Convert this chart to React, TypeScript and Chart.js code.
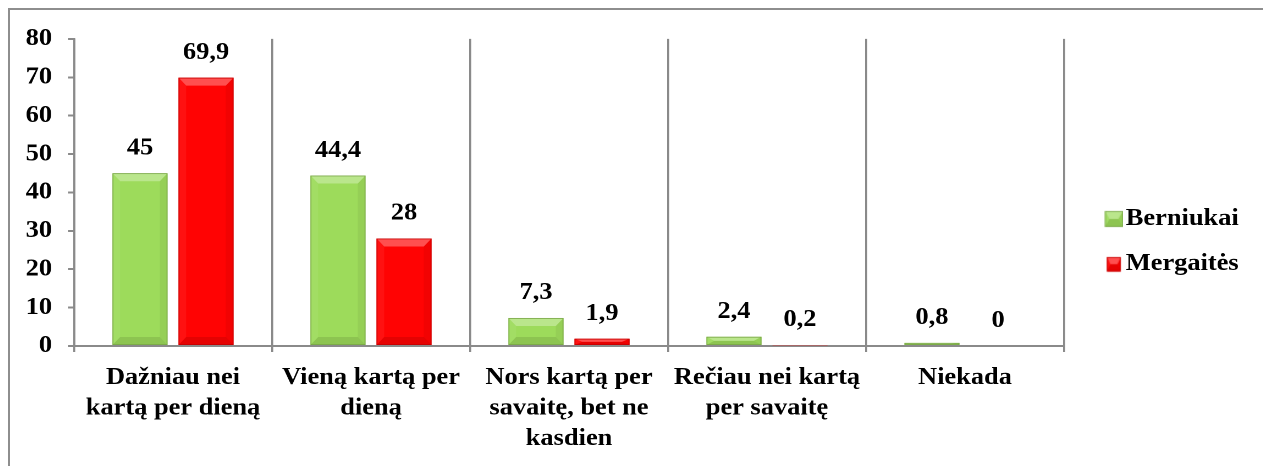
import React, { useEffect, useRef } from "react";
import { Chart, registerables } from "chart.js";

Chart.register(...registerables);

// ---- data ----
const categories: string[][] = [
  ["Dažniau nei", "kartą per dieną"],
  ["Vieną kartą per", "dieną"],
  ["Nors kartą per", "savaitę, bet ne", "kasdien"],
  ["Rečiau nei kartą", "per savaitę"],
  ["Niekada"],
];
const seriesNames = ["Berniukai", "Mergaitės"];
const berniukai = [45, 44.4, 7.3, 2.4, 0.8];
const mergaites = [69.9, 28, 1.9, 0.2, 0];
const yMin = 0;
const yMax = 80;
const yStep = 10;

// ---- styling ----
const FONT = "'Liberation Serif', 'Times New Roman', serif";
const FS = 24;
const FILLS = ["#9DDB5B", "#FF0303"];
const EDGES = ["#79A548", "#C40000"];
const GRID = "#8a8a8a";
const CSS_W = 1256;
const CSS_H = 456;
const LOG_W = 1142; // drawn narrower, shown stretched ~1.1x like the original

function poly(ctx: CanvasRenderingContext2D, pts: number[][], fill: string) {
  ctx.beginPath();
  ctx.moveTo(pts[0][0], pts[0][1]);
  for (let i = 1; i < pts.length; i++) ctx.lineTo(pts[i][0], pts[i][1]);
  ctx.closePath();
  ctx.fillStyle = fill;
  ctx.fill();
}

function bevelRect(ctx: CanvasRenderingContext2D, l: number, t: number, r: number, b: number, di: number) {
  const w = r - l;
  const h = b - t;
  const bx = Math.min(7, w / 4);
  const by = Math.min(8, h / 2);
  poly(ctx, [[l, t], [r, t], [r - bx, t + by], [l + bx, t + by]], "rgba(255,255,255,0.30)");
  poly(ctx, [[l, t], [l + bx, t + by], [l + bx, b - by], [l, b]], "rgba(255,255,255,0.06)");
  poly(ctx, [[r, t], [r - bx, t + by], [r - bx, b - by], [r, b]], "rgba(0,0,0,0.05)");
  poly(ctx, [[l, b], [l + bx, b - by], [r - bx, b - by], [r, b]], "rgba(0,0,0,0.10)");
  ctx.strokeStyle = EDGES[di];
  ctx.lineWidth = 0.8;
  ctx.strokeRect(l + 0.4, t + 0.4, w - 0.8, h - 0.8);
}

function makeMarker(di: number): HTMLCanvasElement {
  const c = document.createElement("canvas");
  c.width = 20;
  c.height = 18;
  const ctx = c.getContext("2d")!;
  const dims = di === 0 ? { ox: 3.5, oy: 1, w: 16.3, h: 16 } : { ox: 5.3, oy: 2, w: 12.7, h: 14.5 };
  ctx.fillStyle = FILLS[di];
  ctx.fillRect(dims.ox, dims.oy, dims.w, dims.h);
  bevelRect(ctx, dims.ox, dims.oy, dims.ox + dims.w, dims.oy + dims.h, di);
  return c;
}

const barDecorPlugin = {
  id: "barDecor",
  afterDatasetsDraw(chart: any) {
    const ctx: CanvasRenderingContext2D = chart.ctx;
    ctx.save();
    chart.data.datasets.forEach((ds: any, di: number) => {
      const meta = chart.getDatasetMeta(di);
      meta.data.forEach((el: any) => {
        const { x, y, base, width } = el.getProps(["x", "y", "base", "width"], true);
        const l = x - width / 2;
        const r = x + width / 2;
        const t = Math.min(y, base);
        const b = Math.max(y, base);
        if (b - t >= 0.6) bevelRect(ctx, l, t, r, b, di);
      });
    });
    ctx.font = `bold ${FS}px ${FONT}`;
    ctx.fillStyle = "#000";
    ctx.textAlign = "center";
    ctx.textBaseline = "middle";
    chart.data.datasets.forEach((ds: any, di: number) => {
      const meta = chart.getDatasetMeta(di);
      meta.data.forEach((el: any, i: number) => {
        const { x, y, base } = el.getProps(["x", "y", "base"], true);
        const t = Math.min(y, base);
        const v = ds.data[i];
        ctx.fillText(String(v).replace(".", ","), x, t - 25);
      });
    });
    ctx.restore();
  },
};

export default function App() {
  const ref = useRef<HTMLCanvasElement>(null);

  useEffect(() => {
    const prev = document.documentElement.style.overflow;
    document.documentElement.style.overflow = "hidden";
    const canvas = ref.current!;
    const markers = [makeMarker(0), makeMarker(1)];
    const series = [berniukai, mergaites];

    const chart = new Chart(canvas, {
      type: "bar",
      data: {
        labels: categories,
        datasets: series.map((d, i) => ({
          label: seriesNames[i],
          data: d,
          backgroundColor: FILLS[i],
          borderWidth: 0,
          categoryPercentage: 0.667,
          barPercentage: 0.833,
        })),
      },
      options: {
        responsive: false,
        animation: false,
        devicePixelRatio: 2,
        layout: { padding: { top: 7, right: 14.8, left: 0, bottom: 0 } },
        plugins: {
          title: {
            display: true,
            text: "",
            font: { size: 1, lineHeight: 1 },
            padding: { top: 19, bottom: 0 },
          },
          tooltip: { enabled: false },
          legend: {
            position: "right",
            align: "center",
            labels: {
              usePointStyle: true,
              boxWidth: 1,
              padding: 21,
              color: "#000",
              font: { family: FONT, size: FS, weight: "bold" },
              generateLabels: (c: any) =>
                c.data.datasets.map((ds: any, i: number) => ({
                  text: ds.label,
                  pointStyle: markers[i],
                  fillStyle: FILLS[i],
                  strokeStyle: EDGES[i],
                  lineWidth: 0,
                  hidden: false,
                  datasetIndex: i,
                  fontColor: "#000",
                })),
            },
          },
        },
        scales: {
          x: {
            type: "category",
            offset: true,
            grid: {
              display: true,
              offset: true,
              drawOnChartArea: true,
              drawTicks: true,
              tickLength: 6,
              color: GRID,
              lineWidth: 1.8,
            },
            border: { display: true, color: GRID, width: 2 },
            ticks: {
              color: "#000",
              font: { family: FONT, size: FS, weight: "bold", lineHeight: 1.27 },
              padding: 10.5,
              autoSkip: false,
              maxRotation: 0,
              minRotation: 0,
            },
            afterFit: (s: any) => {
              s.height = 120;
            },
          },
          y: {
            type: "linear",
            position: "left",
            min: yMin,
            max: yMax,
            grid: {
              display: true,
              drawOnChartArea: false,
              drawTicks: true,
              tickLength: 5.5,
              color: GRID,
              lineWidth: 2,
            },
            border: { display: true, color: GRID, width: 1.8 },
            ticks: {
              stepSize: yStep,
              color: "#000",
              padding: 14.5,
              font: { family: FONT, size: FS, weight: "bold" },
            },
            afterFit: (s: any) => {
              s.width = 58.2;
            },
          },
          y2: {
            type: "linear",
            position: "right",
            display: true,
            grid: { display: false, drawTicks: false },
            border: { display: false },
            ticks: { display: false },
            afterFit: (s: any) => {
              s.width = 22.2;
            },
          },
        },
      },
      plugins: [barDecorPlugin],
    } as any);

    return () => {
      chart.destroy();
      document.documentElement.style.overflow = prev;
    };
  }, []);

  return (
    <div style={{ width: CSS_W, border: "2px solid #8e8e8e", background: "#fff" }}>
      <canvas
        ref={ref}
        width={LOG_W}
        height={CSS_H}
        style={{ width: CSS_W, height: CSS_H, display: "block" }}
      />
    </div>
  );
}
